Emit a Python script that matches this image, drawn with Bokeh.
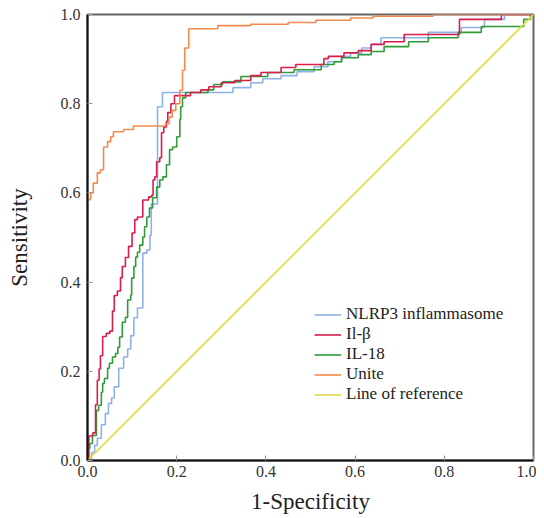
from bokeh.plotting import figure
from bokeh.models import Range1d, FixedTicker, Legend, LegendItem
from bokeh.embed import file_html
from bokeh.resources import INLINE

# ROC step vertices (1-specificity at which the jump occurs, sensitivity after jump)
nlrp3_fpr = [0, 0.009, 0.016, 0.022, 0.031, 0.04, 0.047, 0.054, 0.06, 0.07, 0.081, 0.09, 0.097, 0.104,
             0.112, 0.124, 0.133, 0.14, 0.143, 0.157, 0.168, 0.326, 0.366, 0.393, 0.434, 0.47, 0.508,
             0.539, 0.569, 0.59, 0.615, 0.636, 0.658, 0.764, 0.838, 0.89, 0.935, 1.0]
nlrp3_tpr = [0, 0.018, 0.034, 0.05, 0.08, 0.105, 0.128, 0.14, 0.165, 0.207, 0.232, 0.25, 0.28, 0.32,
             0.342, 0.465, 0.472, 0.505, 0.575, 0.793, 0.825, 0.836, 0.847, 0.856, 0.863, 0.872, 0.883,
             0.894, 0.906, 0.914, 0.925, 0.933, 0.948, 0.96, 0.971, 0.989, 1.0, 1.0]

il1b_fpr = [0, 0.003, 0.012, 0.018, 0.022, 0.026, 0.029, 0.034, 0.042, 0.05, 0.056, 0.06, 0.067, 0.074,
            0.078, 0.085, 0.092, 0.1, 0.106, 0.112, 0.124, 0.137, 0.144, 0.147, 0.151, 0.155, 0.162,
            0.166, 0.171, 0.177, 0.18, 0.187, 0.195, 0.231, 0.254, 0.272, 0.3, 0.33, 0.366, 0.389,
            0.434, 0.467, 0.53, 0.54, 0.575, 0.607, 0.636, 0.665, 0.71, 0.834, 0.928, 1.0]
il1b_tpr = [0, 0.055, 0.062, 0.125, 0.18, 0.205, 0.235, 0.278, 0.285, 0.29, 0.335, 0.37, 0.38, 0.41,
            0.435, 0.455, 0.48, 0.51, 0.54, 0.546, 0.584, 0.591, 0.595, 0.629, 0.636, 0.67, 0.679,
            0.735, 0.748, 0.76, 0.78, 0.80, 0.818, 0.825, 0.831, 0.838, 0.847, 0.852, 0.863, 0.87,
            0.881, 0.888, 0.901, 0.906, 0.914, 0.919, 0.933, 0.939, 0.955, 0.989, 1.0, 1.0]

il18_fpr = [0, 0.002, 0.005, 0.011, 0.02, 0.025, 0.031, 0.034, 0.038, 0.045, 0.049, 0.056, 0.063, 0.068,
            0.072, 0.078, 0.085, 0.09, 0.097, 0.099, 0.104, 0.108, 0.112, 0.117, 0.124, 0.128, 0.133,
            0.139, 0.146, 0.155, 0.162, 0.169, 0.177, 0.184, 0.191, 0.2, 0.207, 0.209, 0.213, 0.22,
            0.27, 0.283, 0.303, 0.344, 0.404, 0.463, 0.524, 0.553, 0.57, 0.607, 0.636, 0.665, 0.72,
            0.764, 0.831, 0.883, 0.978, 0.993, 1.0]
il18_tpr = [0, 0.027, 0.038, 0.056, 0.112, 0.124, 0.153, 0.173, 0.184, 0.207, 0.218, 0.232, 0.24, 0.254,
            0.277, 0.31, 0.321, 0.36, 0.371, 0.409, 0.435, 0.456, 0.467, 0.483, 0.501, 0.524, 0.546,
            0.566, 0.589, 0.613, 0.629, 0.636, 0.663, 0.697, 0.703, 0.726, 0.765, 0.793, 0.813, 0.825,
            0.831, 0.843, 0.849, 0.861, 0.87, 0.876, 0.888, 0.894, 0.903, 0.91, 0.917, 0.928, 0.939,
            0.948, 0.96, 0.973, 0.989, 1.0, 1.0]

unite_fpr = [0, 0.007, 0.013, 0.022, 0.029, 0.036, 0.045, 0.052, 0.058, 0.081, 0.103, 0.175, 0.183,
             0.19, 0.198, 0.207, 0.213, 0.218, 0.227, 0.292, 0.366, 0.45, 0.512, 0.59, 0.64, 0.775, 1.0]
unite_tpr = [0.585, 0.6, 0.622, 0.645, 0.652, 0.703, 0.715, 0.726, 0.737, 0.742, 0.75, 0.755, 0.77,
             0.785, 0.80, 0.83, 0.875, 0.925, 0.968, 0.975, 0.978, 0.982, 0.987, 0.992, 0.996, 1.0, 1.0]

ref_x = [0, 1]
ref_y = [0, 1]

series_names = ["NLRP3 inflammasome", "Il-\u03b2", "IL-18", "Unite", "Line of reference"]
ticks = [0.0, 0.2, 0.4, 0.6, 0.8, 1.0]

FONT = "Liberation Serif"

p = figure(width=536, height=516, x_range=Range1d(0, 1), y_range=Range1d(0, 1),
           output_backend="svg", toolbar_location=None,
           min_border_left=87, min_border_right=3, min_border_top=14, min_border_bottom=56)
p.xgrid.visible = False
p.ygrid.visible = False
p.outline_line_color = "#666666"
p.outline_line_width = 2

for ax in (p.xaxis[0], p.yaxis[0]):
    ax.ticker = FixedTicker(ticks=ticks)
    ax.major_label_overrides = {t: f"{t:.1f}" for t in ticks}
    ax.minor_tick_line_color = None
    ax.major_tick_in = 5
    ax.major_tick_out = 0
    ax.major_tick_line_color = "#999999"
    ax.axis_line_color = "#111111"
    ax.axis_line_width = 2
    ax.major_label_text_font = FONT
    ax.major_label_text_font_size = "16px"
    ax.major_label_text_color = "#333333"
    ax.axis_label_text_font = FONT
    ax.axis_label_text_font_size = "23px"
    ax.axis_label_text_font_style = "normal"
    ax.axis_label_text_color = "#222222"

p.xaxis.axis_label = "1-Specificity"
p.yaxis.axis_label = "Sensitivity"
p.xaxis.major_label_standoff = 5
p.xaxis.axis_label_standoff = 9
p.yaxis.major_label_standoff = 7
p.yaxis.axis_label_standoff = 26

lw = 1.6
r_blue = p.step(nlrp3_fpr, nlrp3_tpr, mode="after", line_color="#8db2e6", line_width=lw)
r_green = p.step(il18_fpr, il18_tpr, mode="after", line_color="#2f9c3a", line_width=lw)
r_red = p.step(il1b_fpr, il1b_tpr, mode="after", line_color="#d71f4c", line_width=lw)
r_orange = p.step(unite_fpr, unite_tpr, mode="after", line_color="#f38a4e", line_width=lw)
r_ref = p.line(ref_x, ref_y, line_color="#e2dd45", line_width=lw)

legend = Legend(items=[
    LegendItem(label=series_names[0], renderers=[r_blue]),
    LegendItem(label=series_names[1], renderers=[r_red]),
    LegendItem(label=series_names[2], renderers=[r_green]),
    LegendItem(label=series_names[3], renderers=[r_orange]),
    LegendItem(label=series_names[4], renderers=[r_ref]),
], location=(227, 56))
legend.background_fill_alpha = 0
legend.border_line_alpha = 0
legend.glyph_width = 27
legend.glyph_height = 17
legend.label_height = 17
legend.spacing = 0
legend.padding = 0
legend.margin = 0
legend.label_standoff = 5
legend.label_text_font = FONT
legend.label_text_font_size = "17px"
legend.label_text_color = "#222222"
p.add_layout(legend)

open("out.html", "w").write(file_html(p, INLINE))
